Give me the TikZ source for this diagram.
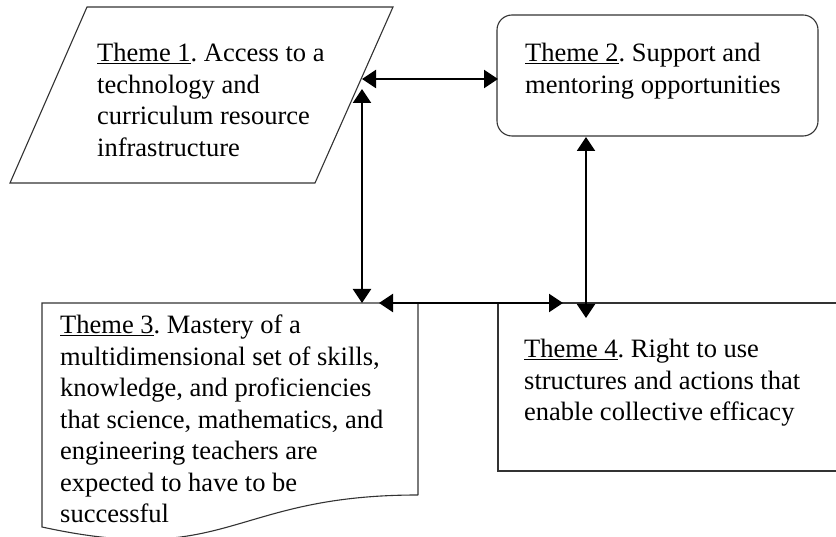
\documentclass[tikz,border=0pt]{standalone}
\usepackage{fontspec}
\setmainfont{Liberation Serif}
\frenchspacing
\usetikzlibrary{arrows.meta}
\tikzset{
  boxline/.style={draw=black!80, line width=1.1pt},
  txt/.style={anchor=north west, inner sep=0pt, align=left, font=\fontsize{26.5}{31.5}\selectfont},
  link/.style={line width=2pt, {Triangle[length=14pt,width=18pt]}-{Triangle[length=14pt,width=18pt]}}
}
\begin{document}
\begin{tikzpicture}[x=1pt,y=-1pt]
\clip (0,0) rectangle (836,537);
\fill[white] (0,0) rectangle (836,537);
% shapes
\draw[boxline] (87,7) -- (393,7) -- (315,183) -- (10,183) -- cycle;
\draw[boxline, rounded corners=15pt] (497,15) rectangle (818,136);
\draw[boxline] (418,495) -- (418,303) -- (42,303) -- (42,527) .. controls (230,568) and (230,495) .. (418,495);
\draw[boxline] (498,303) rectangle (850,471);
% texts
\node[txt] (t1) at (97,43) {\underline{Theme 1}. Access to a\\technology and\\curriculum resource\\infrastructure};
\node[txt] (t2) at (525,43) {\underline{Theme 2}. Support and\\mentoring opportunities};
\node[txt] (t3) at (60,315) {\underline{Theme 3}. Mastery of a\\multidimensional set of skills,\\knowledge, and proficiencies\\that science, mathematics, and\\engineering teachers are\\expected to have to be\\successful};
\node[txt] (t4) at (524,339) {\underline{Theme 4}. Right to use\\structures and actions that\\enable collective efficacy};
% connector ends
\coordinate (a1) at (362,79);
\coordinate (b1) at (498,79);
\coordinate (a2) at (362,89);
\coordinate (b2) at (362,303);
\coordinate (a3) at (379,303);
\coordinate (b3) at (563,303);
\coordinate (a4) at (586,137);
\coordinate (b4) at (586,318);
\draw[link] (a1) -- (b1);
\draw[link] (a2) -- (b2);
\draw[link] (a3) -- (b3);
\draw[link] (a4) -- (b4);
\end{tikzpicture}
\end{document}
